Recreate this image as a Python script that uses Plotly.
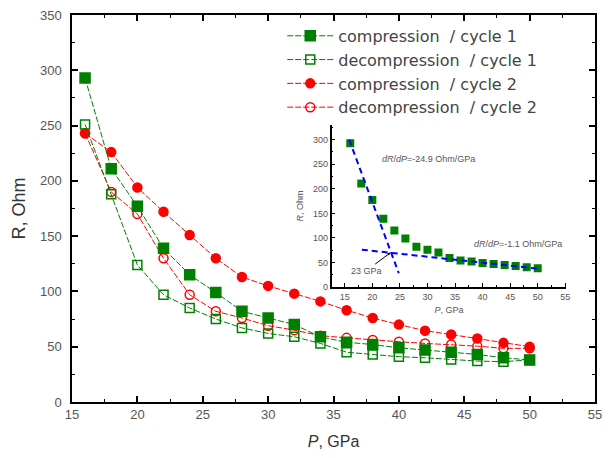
import plotly.graph_objects as go

# Pressure steps, GPa
pressure = [16, 18, 20, 22, 24, 26, 28, 30, 32, 34, 36, 38, 40, 42, 44, 46, 48, 50]

# Resistance, Ohm
comp_cycle1 = [293, 211, 177, 139, 115, 99, 82, 76, 70, 59, 54, 52, 49, 47, 45, 43, 40, 38]
decomp_cycle1 = [251, 188, 124, 97, 85, 75, 67, 62, 59, 53, 45, 43, 41, 40, 38.5, 37, 36.5, 38]
comp_cycle2 = [243, 226, 194, 172, 151, 130, 113, 105, 98, 91, 83, 76, 70, 64.5, 61, 57.5, 53.5, 50]
decomp_cycle2 = [243, 190, 170, 130, 97, 82, 76, 69, 65, 60, 58, 56, 54.5, 53, 52, 50.5, 48.5, 48.5]

# Linear fits of the cycle-1 compression curve (inset)
steep_fit_p = [15.8, 24.8]
steep_fit_r = [300, 28]
flat_fit_p = [18.1, 50.3]
flat_fit_r = [76, 37]
crossover_p = 23.3
crossover_r = 70

x_ticks = [15, 20, 25, 30, 35, 40, 45, 50, 55]
y_ticks = [0, 50, 100, 150, 200, 250, 300, 350]

GREEN = "#008000"
RED = "#ff0000"
BLUE = "#0000ff"
TICK_FONT = dict(family="Liberation Sans, Arial, sans-serif", size=13, color="#555555")
SMALL_FONT = dict(family="Liberation Sans, Arial, sans-serif", size=9, color="#555555")

fig = go.Figure()

series = [
    ("compression  / cycle 1", comp_cycle1, GREEN, "square", 10, 4),
    ("decompression  / cycle 1", decomp_cycle1, GREEN, "square-open", 9, 3),
    ("compression  / cycle 2", comp_cycle2, RED, "circle", 9, 2),
    ("decompression  / cycle 2", decomp_cycle2, RED, "circle-open", 9, 1),
]
# red curves go underneath the green ones
for name, values, color, symbol, size, z in sorted(series, key=lambda s: s[5]):
    rank = [s[0] for s in series].index(name)
    fig.add_trace(go.Scatter(
        x=pressure, y=values, name=name, mode="lines+markers",
        line=dict(color=color, width=1, dash="6px,2px"),
        marker=dict(symbol=symbol, size=size, color=color,
                    line=dict(color=color, width=1.5)),
        legendrank=rank, legendgroup=name,
        xaxis="x", yaxis="y",
    ))

# inset: cycle-1 compression with the two linear regimes
fig.add_trace(go.Scatter(
    x=pressure, y=comp_cycle1, mode="markers", showlegend=False,
    marker=dict(symbol="square", size=8, color=GREEN),
    xaxis="x2", yaxis="y2",
))
for fx, fy in [(steep_fit_p, steep_fit_r), (flat_fit_p, flat_fit_r)]:
    fig.add_trace(go.Scatter(
        x=fx, y=fy, mode="lines", showlegend=False,
        line=dict(color=BLUE, width=2, dash="6px,4px"),
        xaxis="x2", yaxis="y2",
    ))

axis_common = dict(
    showline=True, linecolor="black", linewidth=1.5,
    ticks="inside", tickcolor="black", showgrid=False, zeroline=False,
)

fig.update_layout(
    width=610, height=458,
    margin=dict(l=72, r=8, t=15, b=56),
    paper_bgcolor="white", plot_bgcolor="rgba(0,0,0,0)",
    xaxis=dict(
        **axis_common, range=[15, 55], tickvals=x_ticks, ticklen=6, tickwidth=1.5,
        minor=dict(dtick=2.5, ticklen=3, ticks="inside", tickcolor="black", tickwidth=1.2),
        mirror="ticks", tickfont=TICK_FONT,
        title=dict(text="<i>P</i>, GPa", font=dict(family="Liberation Sans, Arial, sans-serif",
                                                  size=16, color="#333333"), standoff=14),
    ),
    yaxis=dict(
        **axis_common, range=[0, 350], tickvals=y_ticks, ticklen=6, tickwidth=1.5,
        minor=dict(dtick=25, ticklen=3, ticks="inside", tickcolor="black", tickwidth=1.2),
        mirror="ticks", tickfont=TICK_FONT, ticklabelstandoff=6,
        title=dict(text="R, Ohm", font=dict(family="Liberation Sans, Arial, sans-serif",
                                            size=18, color="#333333"), standoff=10),
    ),
    xaxis2=dict(
        **axis_common, domain=[0.4962, 0.9453], anchor="y2", range=[12.6, 55.2],
        tickvals=x_ticks, ticklen=4, tickwidth=1.2,
        minor=dict(dtick=2.5, ticklen=2, ticks="inside", tickcolor="black"),
        tickfont=SMALL_FONT,
        title=dict(text="<i>P</i>, GPa", font=SMALL_FONT, standoff=6),
    ),
    yaxis2=dict(
        **axis_common, domain=[0.2972, 0.7158], anchor="x2", range=[0, 330],
        tickvals=[0, 50, 100, 150, 200, 250, 300], ticklen=4, tickwidth=1.2,
        minor=dict(dtick=25, ticklen=2, ticks="inside", tickcolor="black"),
        tickfont=SMALL_FONT,
        title=dict(text="<i>R</i>, Ohm", font=SMALL_FONT, standoff=8),
    ),
    legend=dict(
        x=0.402, y=0.99, xanchor="left", yanchor="top",
        bgcolor="rgba(0,0,0,0)", borderwidth=0,
        font=dict(family="DejaVu Sans, sans-serif", size=16, color="#444444"),
        tracegroupgap=0, itemwidth=46,
    ),
    annotations=[
        dict(xref="x2", yref="y2", x=30.2, y=261, showarrow=False,
             text="<i>dR</i>/<i>dP</i>=-24.9 Ohm/GPa", font=SMALL_FONT),
        dict(xref="x2", yref="y2", x=46.5, y=88, showarrow=False,
             text="<i>dR</i>/<i>dP</i>=-1.1 Ohm/GPa", font=SMALL_FONT),
        dict(xref="x2", yref="y2", x=crossover_p, y=crossover_r, showarrow=True,
             ax=-24, ay=18, text="23 GPa", font=SMALL_FONT,
             arrowhead=2, arrowsize=0.6, arrowwidth=1, arrowcolor="black"),
    ],
)

fig.write_html("out.html")
